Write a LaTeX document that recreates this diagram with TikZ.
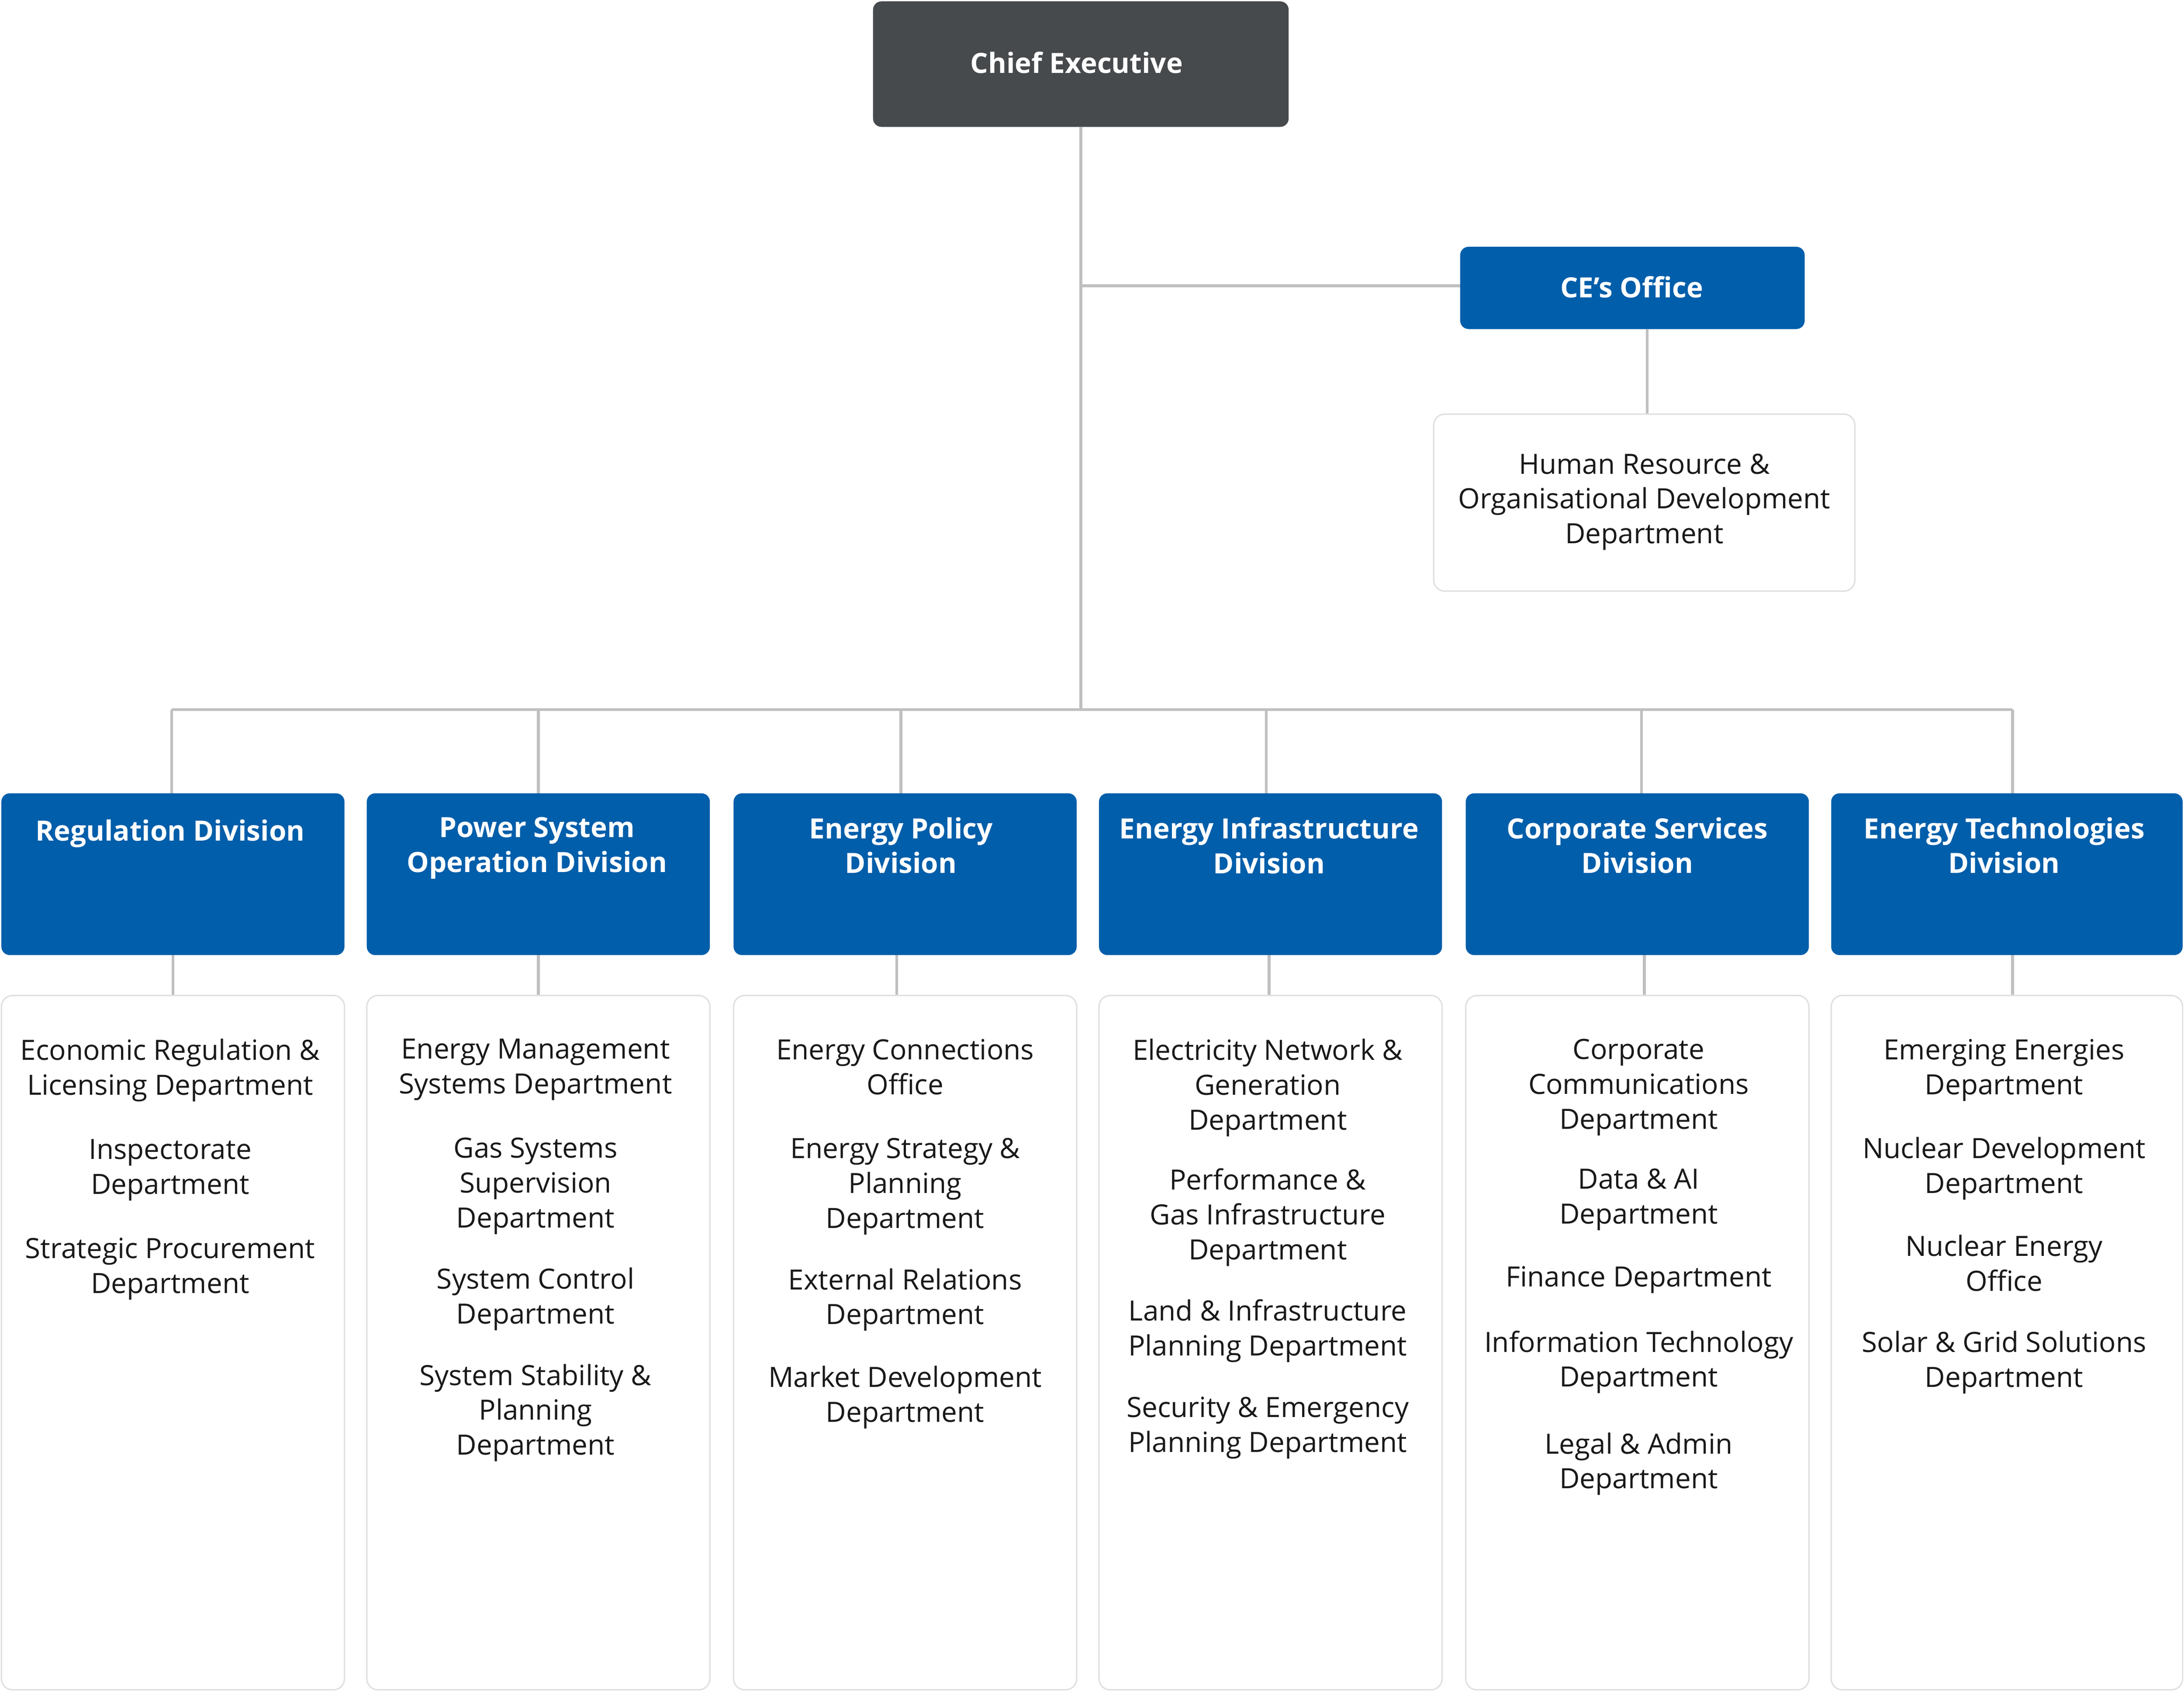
\documentclass[tikz,border=0pt]{standalone}
\usepackage{fontspec}
\setmainfont{Open Sans}
\begin{document}
\begin{tikzpicture}[x=1pt,y=1pt,
  ln/.style={draw=black!25,line width=2pt},
  ce/.style={fill={rgb,255:red,71;green,74;blue,77},rounded corners=6pt,draw=none},
  blue/.style={fill={rgb,255:red,0;green,94;blue,170},rounded corners=6pt,draw=none},
  dep/.style={fill=white,draw=black!12,line width=1pt,rounded corners=8pt},
  ht/.style={text=white,font=\fontsize{20}{25}\selectfont\bfseries,align=center,inner sep=0pt},
  dt/.style={text=black!90,font=\fontsize{20}{25}\selectfont,align=center,inner sep=0pt,anchor=north}]
\useasboundingbox (0,0) rectangle (1566,-1214);
% connectors
\coordinate (top) at (775,-91);
\coordinate (j1) at (775,-205);
\coordinate (j2) at (775,-509);
\coordinate (bl) at (123,-509);
\coordinate (br) at (1443,-509);
\draw[ln] (top) -- (j2);
\draw[ln] (j1) -- (1047,-205);
\draw[ln] (1181,-236) -- (1181,-297);
\draw[ln] (bl) -- (br);
\foreach \x in {123,386,646,908,1177,1443}{\draw[ln] (\x,-509) -- (\x,-569);}
\foreach \x in {124,386,643,910,1179,1443}{\draw[ln] (\x,-685) -- (\x,-714);}
% top boxes
\path[ce] (626,-1) rectangle (924,-91);
\node[ht] (cet) at (772,-45) {Chief Executive};
\path[blue] (1047,-177) rectangle (1294,-236);
\node[ht] (ceo) at (1170,-206) {CE’s Office};
\path[dep] (1028,-297) rectangle (1330,-424);
\node[dt,anchor=center] (hr) at (1179,-360) {Human Resource \&\\Organisational Development\\Department};
% divisions
\foreach \a/\b in {1/247,263/509,526/772,788/1034,1051/1297,1313/1565}{
  \path[blue] (\a,-569) rectangle (\b,-685);
  \path[dep] (\a,-714) rectangle (\b,-1212);}
\node[ht] (d1) at (122,-598) {Regulation Division};
\node[ht,anchor=north] (d2) at (385,-586) {Power System\\Operation Division};
\node[ht,anchor=north] (d3) at (646,-586) {Energy Policy\\Division};
\node[ht,anchor=north] (d4) at (910,-586) {Energy Infrastructure\\Division};
\node[ht,anchor=north] (d5) at (1174,-586) {Corporate Services\\Division};
\node[ht,anchor=north] (d6) at (1437,-586) {Energy Technologies\\Division};
% departments
\node[dt] (p1) at (122,-745) {Economic Regulation \&\\Licensing Department\\[21pt]Inspectorate\\Department\\[21pt]Strategic Procurement\\Department};
\node[dt] (p2) at (384,-745) {Energy Management\\Systems Department\\[21pt]Gas Systems\\Supervision\\Department\\[19pt]System Control\\Department\\[19pt]System Stability \&\\Planning\\Department};
\node[dt] (p3) at (649,-745) {Energy Connections\\Office\\[21pt]Energy Strategy \&\\Planning\\Department\\[19pt]External Relations\\Department\\[20pt]Market Development\\Department};
\node[dt] (p4) at (909,-745) {Electricity Network \&\\Generation\\Department\\[18pt]Performance \&\\Gas Infrastructure\\Department\\[19pt]Land \& Infrastructure\\Planning Department\\[19pt]Security \& Emergency\\Planning Department};
\node[dt] (p5) at (1175,-745) {Corporate\\Communications\\Department\\[18pt]Data \& AI\\Department\\[20pt]Finance Department\\[22pt]Information Technology\\Department\\[23pt]Legal \& Admin\\Department};
\node[dt] (p6) at (1437,-745) {Emerging Energies\\Department\\[21pt]Nuclear Development\\Department\\[20pt]Nuclear Energy\\Office\\[19pt]Solar \& Grid Solutions\\Department};
\end{tikzpicture}
\end{document}
